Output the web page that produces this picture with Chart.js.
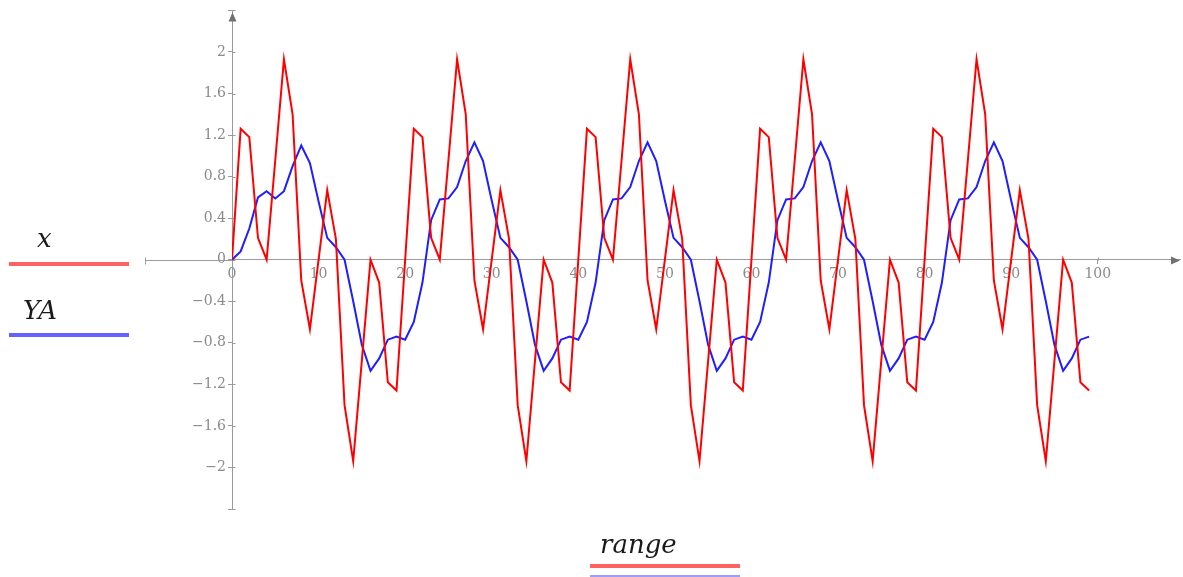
<!DOCTYPE html>
<html>
<head>
<meta charset="utf-8">
<script src="https://cdn.jsdelivr.net/npm/chart.js@4.4.1/dist/chart.umd.min.js"></script>
<style>
  html, body { margin: 0; padding: 0; background: #fff; overflow: hidden; }
  #wrap { position: relative; width: 1183px; height: 577px; }
  #myChart { position: absolute; left: 0; top: 0; }
  .lbl { position: absolute; font-family: "DejaVu Serif", serif; font-style: italic; font-size: 26px; line-height: 26px; color: #1a1a1a; white-space: nowrap; }
  .bar { position: absolute; }
</style>
</head>
<body>
<div id="wrap">
  <canvas id="myChart" width="1183" height="577"></canvas>
  <!-- legend on the left -->
  <div class="lbl" style="left:37px; top:225px;">x</div>
  <div class="bar" style="left:9px; top:262px; width:120px; height:4px; background:#ff6262;"></div>
  <div class="lbl" style="left:23px; top:297px;">YA</div>
  <div class="bar" style="left:9px; top:333px; width:120px; height:4px; background:#6262ff;"></div>
  <!-- axis title -->
  <div class="lbl" style="left:600px; top:531px;">range</div>
  <div class="bar" style="left:590px; top:564px; width:150px; height:4px; background:#ff6262;"></div>
  <div class="bar" style="left:590px; top:575px; width:150px; height:2px; background:#9d9dff;"></div>
</div>
<script>
// index values 0..99 (the "range" variable)
const range = Array.from({ length: 100 }, (_, i) => i);

// red series x
const xVals = [
  0, 1.26, 1.18, 0.21, 0, 0.96, 1.93, 1.40, -0.20, -0.67,
  0, 0.67, 0.20, -1.40, -1.94, -0.97, 0, -0.22, -1.18, -1.26,
  0, 1.26, 1.18, 0.21, 0, 0.96, 1.93, 1.40, -0.20, -0.67,
  0, 0.67, 0.20, -1.40, -1.94, -0.97, 0, -0.22, -1.18, -1.26,
  0, 1.26, 1.18, 0.21, 0, 0.96, 1.93, 1.40, -0.20, -0.67,
  0, 0.67, 0.20, -1.40, -1.94, -0.97, 0, -0.22, -1.18, -1.26,
  0, 1.26, 1.18, 0.21, 0, 0.96, 1.93, 1.40, -0.20, -0.67,
  0, 0.67, 0.20, -1.40, -1.94, -0.97, 0, -0.22, -1.18, -1.26,
  0, 1.26, 1.18, 0.21, 0, 0.96, 1.93, 1.40, -0.20, -0.67,
  0, 0.67, 0.20, -1.40, -1.94, -0.97, 0, -0.22, -1.18, -1.26
];

// blue series YA
const yaVals = [
  0, 0.08, 0.30, 0.60, 0.66, 0.59, 0.66, 0.90, 1.10, 0.93,
  0.56, 0.21, 0.12, 0.00, -0.40, -0.82, -1.07, -0.95, -0.77, -0.74,
  -0.77, -0.60, -0.22, 0.38, 0.58, 0.59, 0.70, 0.95, 1.13, 0.95,
  0.57, 0.21, 0.12, 0.00, -0.40, -0.82, -1.07, -0.95, -0.77, -0.74,
  -0.77, -0.60, -0.22, 0.38, 0.58, 0.59, 0.70, 0.95, 1.13, 0.95,
  0.57, 0.21, 0.12, 0.00, -0.40, -0.82, -1.07, -0.95, -0.77, -0.74,
  -0.77, -0.60, -0.22, 0.38, 0.58, 0.59, 0.70, 0.95, 1.13, 0.95,
  0.57, 0.21, 0.12, 0.00, -0.40, -0.82, -1.07, -0.95, -0.77, -0.74,
  -0.77, -0.60, -0.22, 0.38, 0.58, 0.59, 0.70, 0.95, 1.13, 0.95,
  0.57, 0.21, 0.12, 0.00, -0.40, -0.82, -1.07, -0.95, -0.77, -0.74
];

const AXIS = '#9a9a9a';
const TICKTXT = '#8a8a8a';
const xStart = -10; // the x axis line starts left of the y axis

// arrows, the part of the x axis left of 0, ticks on the other side of the axes
const axisExtras = {
  id: 'axisExtras',
  beforeDatasetsDraw(chart) {
    const { ctx, scales: { x, y } } = chart;
    const x0 = Math.round(x.getPixelForValue(0)) + 0.5;
    const y0 = Math.round(y.getPixelForValue(0)) + 0.5;
    const step = x.getPixelForValue(10) - x.getPixelForValue(0);
    const xl = Math.round(x0 + (xStart / 10) * step) - 1;
    ctx.save();
    ctx.strokeStyle = AXIS;
    ctx.lineWidth = 1;
    ctx.beginPath();
    ctx.moveTo(xl, y0); ctx.lineTo(x0, y0);
    ctx.moveTo(xl + 0.5, y0 - 3); ctx.lineTo(xl + 0.5, y0 + 4);
    x.ticks.forEach(t => {
      const px = Math.round(x.getPixelForValue(t.value)) + 0.5;
      ctx.moveTo(px, y0 - 3); ctx.lineTo(px, y0);
    });
    y.ticks.forEach(t => {
      const py = Math.round(y.getPixelForValue(t.value)) + 0.5;
      ctx.moveTo(x0, py); ctx.lineTo(x0 + 3, py);
    });
    ctx.stroke();
    ctx.fillStyle = '#707070';
    // arrow on top of y axis
    ctx.beginPath();
    ctx.moveTo(x0, y.top + 2); ctx.lineTo(x0 - 4, y.top + 11); ctx.lineTo(x0 + 4, y.top + 11);
    ctx.closePath(); ctx.fill();
    // arrow at right of x axis
    ctx.beginPath();
    ctx.moveTo(x.right, y0); ctx.lineTo(x.right - 9, y0 - 4); ctx.lineTo(x.right - 9, y0 + 4);
    ctx.closePath(); ctx.fill();
    ctx.restore();
  }
};

function fmtY(v) {
  const r = Math.round(v * 10) / 10;
  if (Math.abs(r) > 2.2) return '';
  return String(r).replace('-', '\u2212');
}

const ctx = document.getElementById('myChart').getContext('2d');
const myChart = new Chart(ctx, {
  type: 'line',
  data: {
    datasets: [{
      label: 'x',
      data: range.map((r, i) => ({ x: r, y: xVals[i] })),
      borderColor: 'rgb(255, 0, 0)',
      borderWidth: 2,
      pointRadius: 0,
      tension: 0
    }, {
      label: 'YA',
      data: range.map((r, i) => ({ x: r, y: yaVals[i] })),
      borderColor: 'rgb(30, 30, 255)',
      borderWidth: 2,
      pointRadius: 0,
      tension: 0
    }]
  },
  options: {
    responsive: false,
    animation: false,
    layout: { padding: { left: 0, right: 3, top: 9, bottom: 68 } },
    plugins: { legend: { display: false }, tooltip: { enabled: false } },
    scales: {
      x: {
        type: 'linear',
        position: { y: 0 },
        min: 0,
        max: 109.5,
        grid: { drawOnChartArea: false, color: AXIS, tickLength: 4 },
        border: { color: AXIS },
        ticks: {
          stepSize: 10,
          includeBounds: false,
          maxRotation: 0,
          autoSkip: false,
          padding: 2,
          color: TICKTXT,
          font: { family: 'DejaVu Serif', size: 14 },
          callback: v => (v > 100 ? '' : String(v))
        }
      },
      y: {
        type: 'linear',
        position: 'left',
        min: -2.4,
        max: 2.4,
        afterFit: s => { s.width = 232; },
        grid: { drawOnChartArea: false, color: AXIS, tickLength: 4 },
        border: { color: AXIS },
        ticks: {
          stepSize: 0.4,
          autoSkip: false,
          padding: 2,
          color: TICKTXT,
          font: { family: 'DejaVu Serif', size: 14 },
          callback: v => fmtY(v)
        }
      }
    }
  },
  plugins: [axisExtras]
});
</script>
</body>
</html>
